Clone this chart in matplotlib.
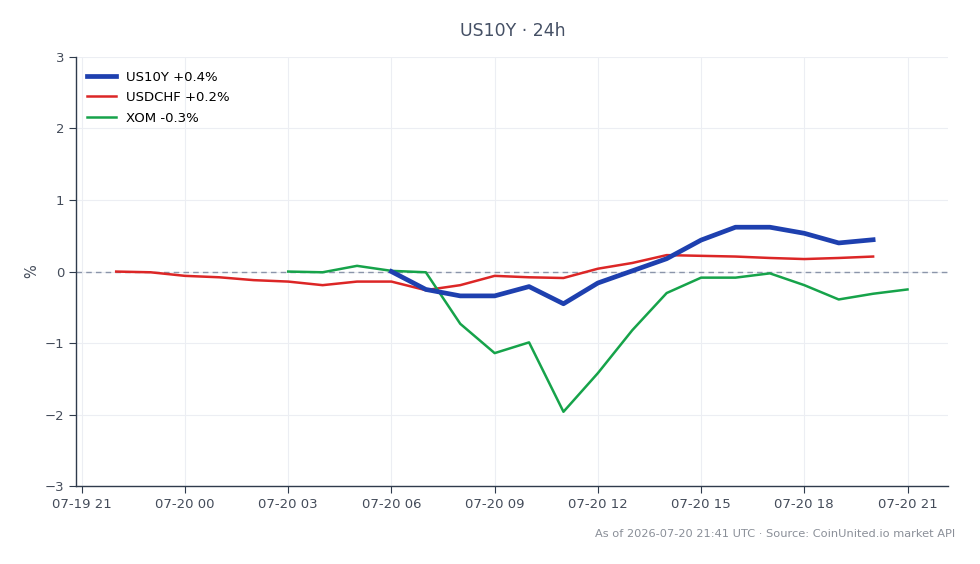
import numpy as np
import pandas as pd
import matplotlib
matplotlib.use("Agg")
import matplotlib.pyplot as plt
import matplotlib.dates as mdates

# hourly % change series
usdchf_start = "2026-07-19 22:00"
usdchf = [0.0, -0.01, -0.06, -0.08, -0.12, -0.14, -0.19, -0.14, -0.14, -0.26,
          -0.19, -0.06, -0.08, -0.09, 0.04, 0.12, 0.23, 0.22, 0.21, 0.19,
          0.175, 0.19, 0.21]

xom_start = "2026-07-20 03:00"
xom = [0.0, -0.01, 0.08, 0.01, -0.01, -0.73, -1.14, -0.99, -1.96, -1.42,
       -0.82, -0.30, -0.085, -0.085, -0.025, -0.19, -0.39, -0.31, -0.25]

us10y_start = "2026-07-20 06:00"
us10y = [0.0, -0.25, -0.34, -0.34, -0.21, -0.45, -0.16, 0.01, 0.18, 0.44,
         0.62, 0.62, 0.535, 0.40, 0.445]

labels = ["US10Y +0.4%", "USDCHF +0.2%", "XOM -0.3%"]
title = "US10Y · 24h"
footer = "As of 2026-07-20 21:41 UTC · Source: CoinUnited.io market API"

t_us10y = pd.date_range(us10y_start, periods=len(us10y), freq="h")
t_usdchf = pd.date_range(usdchf_start, periods=len(usdchf), freq="h")
t_xom = pd.date_range(xom_start, periods=len(xom), freq="h")

fig = plt.figure(figsize=(9.8, 5.64), dpi=100)
ax = fig.add_axes([0.0776, 0.138, 0.8894, 0.761])

ax.plot(t_us10y, us10y, color="#1e40af", lw=3.4, label=labels[0], zorder=4)
ax.plot(t_usdchf, usdchf, color="#dc2626", lw=1.8, label=labels[1], zorder=3)
ax.plot(t_xom, xom, color="#16a34a", lw=1.8, label=labels[2], zorder=3)
ax.axhline(0, color="#8b95aa", lw=1, ls=(0, (4, 3)), zorder=2)

x0 = pd.Timestamp("2026-07-19 21:00")
x1 = pd.Timestamp("2026-07-20 21:00")
ax.set_xlim(x0 - pd.Timedelta(minutes=10), x1 + pd.Timedelta(minutes=70))
ax.set_ylim(-3, 3)
ax.set_yticks(range(-3, 4))
ax.xaxis.set_major_locator(mdates.HourLocator(byhour=range(0, 24, 3)))
ax.xaxis.set_major_formatter(mdates.DateFormatter("%m-%d %H"))

ax.grid(True, color="#eceef3", lw=0.8)
ax.set_axisbelow(True)
for s in ["top", "right"]:
    ax.spines[s].set_visible(False)
for s in ["left", "bottom"]:
    ax.spines[s].set_color("#2f3b4c")
    ax.spines[s].set_linewidth(1)
ax.tick_params(colors="#444c5a", labelsize=9.5, length=5)
ax.tick_params(axis="both", colors="#2f3b4c", labelcolor="#444c5a")

ax.set_ylabel("%", color="#444c5a", fontsize=10.5, labelpad=4)

leg = ax.legend(loc="upper left", bbox_to_anchor=(0.0, 0.993), frameon=False,
                fontsize=9.5, handlelength=2.2, borderaxespad=0.4, labelspacing=0.57)

fig.text(0.523, 0.945, title, ha="center", va="center", fontsize=12.5, color="#455065")
fig.text(0.975, 0.054, footer, ha="right", va="center", fontsize=8.2, color="#8a8f98")

fig.savefig("out.png", dpi=100)
